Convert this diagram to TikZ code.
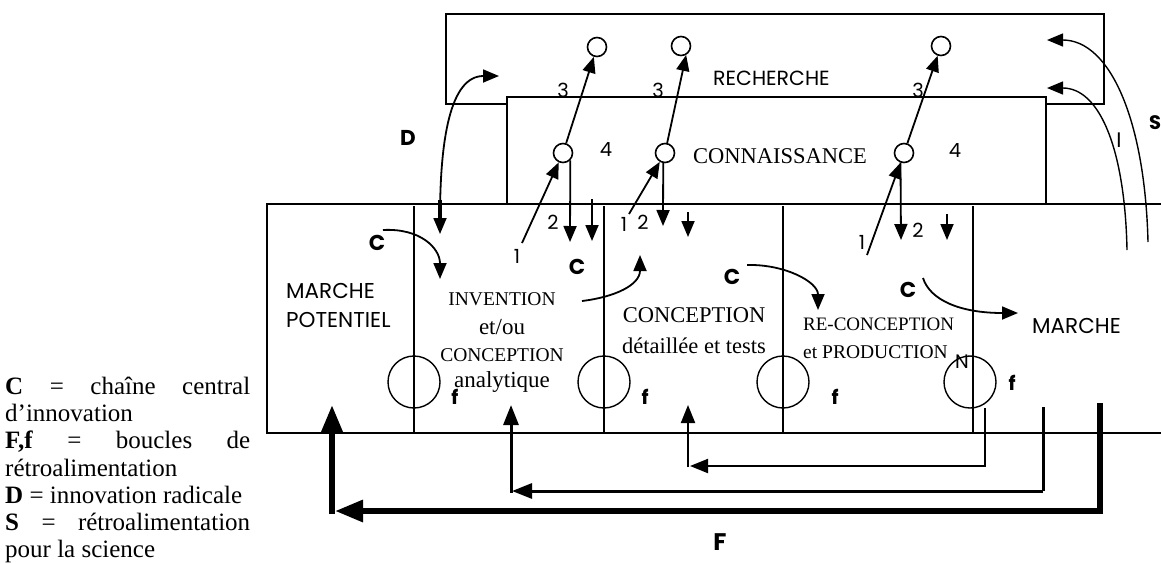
\documentclass[tikz,border=0pt]{standalone}
\usepackage{fontspec}
\setmainfont{Liberation Serif}
\newfontfamily\gs{Poppins}
\usetikzlibrary{arrows.meta}
\begin{document}
\begin{tikzpicture}[x=1pt,y=-1pt,
  box/.style={line width=2.6pt},
  divl/.style={line width=1.4pt},
  arr/.style={line width=1.8pt,-{Triangle[length=16pt,width=13pt]}},
  arrb/.style={line width=1.8pt,{Triangle[length=16pt,width=13pt]}-{Triangle[length=16pt,width=13pt]}},
  sc/.style={circle,draw,line width=1.6pt,minimum size=19pt,inner sep=0pt},
  bc/.style={circle,draw,line width=1.4pt,minimum size=52pt,inner sep=0pt},
  lab/.style={font=\gs\fontsize{19.5}{19.5}\selectfont,inner sep=0pt},
  blab/.style={font=\gs\bfseries\fontsize{21.5}{21.5}\selectfont,inner sep=0pt},
  flab/.style={font=\gs\bfseries\fontsize{19.5}{19.5}\selectfont,inner sep=0pt},
  ttl/.style={font=\gs\fontsize{21.5}{21.5}\selectfont,inner sep=0pt,anchor=base west},
  srf/.style={inner sep=0pt,anchor=base},
  leg/.style={font=\fontsize{25}{27}\selectfont,inner sep=0pt,anchor=base west},
  loopa/.style={line width=2pt,-{Triangle[length=18pt,width=14pt]}},
  loopb/.style={line width=3pt,-{Triangle[length=20pt,width=15pt]}},
  loopc/.style={line width=6pt,-{Triangle[length=28pt,width=21pt]}},
  loopal/.style={line width=2pt},
  loopbl/.style={line width=3pt},
  loopcl/.style={line width=6pt}
]
\useasboundingbox[fill=white] (0,0) rectangle (1161,563);

% boxes
\draw[box] (446,14) rectangle (1104,104);
\filldraw[box,fill=white] (507,97) rectangle (1046,204);
\draw[box] (1161,204) -- (267,204) -- (267,433) -- (1161,433);

% dividers
\foreach \x in {414,604,783,973} \draw[divl] (\x,206) -- (\x,433);

% big feedback circles
\node[bc] (F1) at (414,382) {};
\node[bc] (F2) at (604,382) {};
\node[bc] (F3) at (783,382) {};
\node[bc] (F4) at (970,382) {};

% titles
\node[ttl,font=\gs\fontsize{20.5}{20.5}\selectfont] (rech) at (713,85) {RECHERCHE};
\node[srf,font=\fontsize{22.5}{22.5}\selectfont] (conn) at (780,163) {CONNAISSANCE};
\node[ttl] (mp1) at (286,298) {MARCHE};
\node[ttl] (mp2) at (286,327) {POTENTIEL};
\node[ttl] (mar) at (1032,333) {MARCHE};
\node[srf,font=\fontsize{19.5}{19.5}\selectfont] (inv1) at (502,305) {INVENTION};
\node[srf,font=\fontsize{23}{23}\selectfont] (inv2) at (502,334) {et/ou};
\node[srf,font=\fontsize{19.5}{19.5}\selectfont] (inv3) at (502,361) {CONCEPTION};
\node[srf,font=\fontsize{23}{23}\selectfont] (inv4) at (502,387) {analytique};
\node[srf,font=\fontsize{22.5}{22.5}\selectfont] (cdt1) at (694,322) {CONCEPTION};
\node[srf,font=\fontsize{22.5}{22.5}\selectfont] (cdt2) at (694,353) {détaillée et tests};
\node[srf,anchor=base west,font=\fontsize{19}{19}\selectfont] (rcp1) at (803,330) {RE-CONCEPTION};
\node[srf,anchor=base west,font=\fontsize{19.5}{19.5}\selectfont] (rcp2) at (803,358) {et PRODUCTION};

% small circles
\node[sc] (R1) at (597,47) {};
\node[sc] (R2) at (681,46) {};
\node[sc] (R3) at (941,46) {};
\node[sc] (K1) at (563,153) {};
\node[sc] (K2) at (665,153) {};
\node[sc] (K3) at (904,153) {};

% arrows 3
\draw[arr] (K1) -- (R1);
\draw[arr] (K2) -- (R2.-60);
\draw[arr] (K3) -- (R3);
\node[lab] (n31) at (563,90) {3};
\node[lab] (n32) at (658,90) {3};
\node[lab] (n33) at (918,90) {3};
\node[lab] (n41) at (606,150) {4};
\node[lab] (n42) at (955,151) {4};

% arrows 1
\coordinate (a1) at (522,243);
\coordinate (a2) at (629,214);
\coordinate (a3) at (867,255);
\draw[arr] (a1) -- (K1);
\draw[arr] (a2) -- (K2);
\draw[arr] (a3) -- (K3);
\node[lab] (n11) at (517,256) {1};
\node[lab] (n12) at (624,224) {1};
\node[lab] (n13) at (862,242) {1};

% arrows 2
\coordinate (b1) at (570,242);
\coordinate (b2) at (663,226);
\coordinate (b3) at (901,240);
\draw[arr] (K1.-45) -- (b1);
\draw[arr] (K2.-100) -- (b2);
\draw[arr] (K3.-110) -- (b3);
\node[lab] (n21) at (553,222) {2};
\node[lab] (n22) at (643,222) {2};
\node[lab] (n23) at (918,230) {2};

% short arrows
\coordinate (s1a) at (592,199); \coordinate (s1b) at (592,241);
\coordinate (s2a) at (688,212); \coordinate (s2b) at (688,237);
\coordinate (s3a) at (947,214); \coordinate (s3b) at (947,240);
\draw[arr] (s1a) -- (s1b);
\draw[arr] (s2a) -- (s2b);
\draw[arr] (s3a) -- (s3b);

% D arrow
\coordinate (Db) at (440,234);
\coordinate (Dt) at (499,76);
\draw[arrb] (Db) .. controls (440,140) and (450,76) .. (Dt);
\draw[line width=4.5pt] (440,200) -- (440,220);
\node[blab] (Dl) at (408,138) {D};

% C arrows
\coordinate (c1a) at (383,230); \coordinate (c1b) at (440,279);
\coordinate (c2a) at (582,301); \coordinate (c2b) at (640,255);
\coordinate (c3a) at (747,265); \coordinate (c3b) at (818,310);
\coordinate (c4a) at (923,278); \coordinate (c4b) at (1018,313);
\draw[arr] (c1a) .. controls (420,228) and (440,248) .. (c1b);
\draw[arr] (c2a) .. controls (615,297) and (640,285) .. (c2b);
\draw[arr] (c3a) .. controls (785,264) and (818,282) .. (c3b);
\draw[arr] (c4a) .. controls (930,300) and (960,313) .. (c4b);
\node[blab] (C1) at (377,243) {C};
\node[blab] (C2) at (577,267) {C};
\node[blab] (C3) at (732,277) {C};
\node[blab] (C4) at (908,290) {C};

% I and S arrows
\coordinate (Ia) at (1127,250); \coordinate (Ib) at (1047,88);
\coordinate (Sa) at (1148,242); \coordinate (Sb) at (1047,40);
\draw[arr,line width=1.4pt] (Ia) .. controls (1125,150) and (1100,88) .. (Ib);
\draw[arr,line width=1.4pt] (Sa) .. controls (1145,120) and (1110,40) .. (Sb);
\node[lab,font=\gs\fontsize{21}{21}\selectfont] (Il) at (1119,140) {I};
\node[flab] (Sl) at (1155,123) {S};

% f labels and N
\node[flab] (f1) at (455,397) {f};
\node[flab] (f2) at (645,397) {f};
\node[flab] (f3) at (835,397) {f};
\node[flab] (f4) at (1012,383) {f};
\node[lab] (N) at (962,362) {N};

% bottom feedback loops
\coordinate (t1) at (985,408); \coordinate (t1c) at (985,466);
\coordinate (t1e) at (690,466); \coordinate (t1u) at (688,405);
\draw[loopal] (t1) -- (t1c) -- (700,466);
\draw[loopa] (t1c) -- (t1e);
\draw[loopa] (688,467) -- (t1u);

\coordinate (t2) at (1043,407); \coordinate (t2c) at (1043,491);
\coordinate (t2e) at (512,491); \coordinate (t2u) at (511,405);
\draw[loopbl] (t2) -- (t2c);
\draw[loopb] (t2c) -- (t2e);
\draw[loopb] (511,492.5) -- (t2u);

\coordinate (t3) at (1100,403); \coordinate (t3c) at (1100,511);
\coordinate (t3e) at (335,511); \coordinate (t3u) at (332,405);
\draw[loopcl] (t3) -- (t3c);
\draw[loopc] (1103,511) -- (t3e);
\draw[loopc] (332,514) -- (t3u);
\node[blab,font=\gs\bfseries\fontsize{24}{24}\selectfont] (Fl) at (720,542) {F};

% legend
\node[leg] (L1) at (5,394) {\makebox[245pt][s]{\textbf{C} = chaîne central}};
\node[leg] (L2) at (5,421) {d’innovation};
\node[leg] (L3) at (5,448) {\makebox[245pt][s]{\textbf{F,f} = boucles de}};
\node[leg] (L4) at (5,476) {rétroalimentation};
\node[leg] (L5) at (5,503) {\textbf{D} = innovation radicale};
\node[leg] (L6) at (5,530) {\makebox[245pt][s]{\textbf{S} = rétroalimentation}};
\node[leg] (L7) at (5,557) {pour la science};
\end{tikzpicture}
\end{document}
